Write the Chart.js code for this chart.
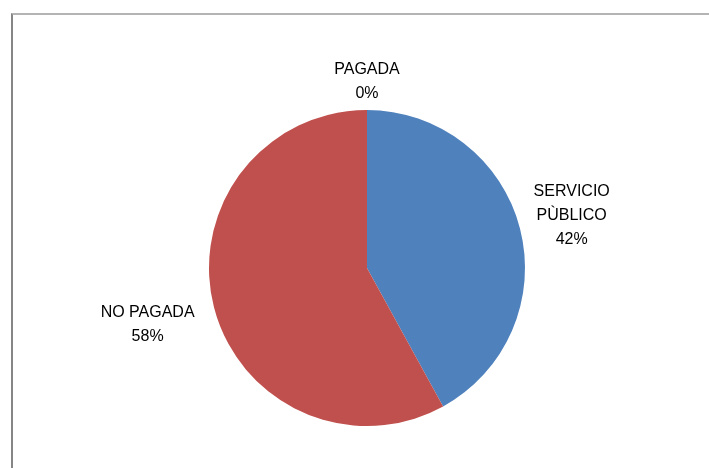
<!DOCTYPE html>
<html>
<head>
<meta charset="utf-8">
<script src="https://cdn.jsdelivr.net/npm/chart.js@4"></script>
<style>
	html, body { margin: 0; padding: 0; background: #fff; }
	#wrap { position: relative; width: 709px; height: 468px; overflow: hidden; }
	#frame {
		position: absolute; left: 11px; top: 13px; right: -2px; bottom: -2px;
		border-top: 2px solid #b4b4b4; border-left: 2px solid #868686;
	}
	#chart { position: absolute; left: 0; top: 0; }
</style>
</head>
<body>
<div id="wrap">
	<div id="frame"></div>
	<canvas id="chart" width="709" height="468"></canvas>
</div>
<script>
	'use strict';

	// datos
	let categories	= [['SERVICIO', 'PÙBLICO'], ['NO PAGADA'], ['PAGADA']];
	let values		= [42, 58, 0];
	let colors		= ['#4f81bd', '#c0504d', '#9bbb59'];
	let labelGap	= [14, 20, 8];

	// etiquetas fuera de cada porcion
	let outsideLabels = {
		id: 'outsideLabels',
		afterDatasetsDraw: function (chart) {
			let ctx		= chart.ctx;
			let meta	= chart.getDatasetMeta(0);
			let data	= chart.data.datasets[0].data;
			let total	= data.reduce(function (a, b) { return a + b; }, 0);
			let lineH	= 24;

			ctx.save();
			ctx.font = '16px "Liberation Sans", Arial, sans-serif';
			ctx.fillStyle = '#000';
			ctx.textAlign = 'center';
			ctx.textBaseline = 'middle';

			meta.data.forEach(function (arc, i) {
				let p		= arc.getProps(['x', 'y', 'startAngle', 'endAngle', 'outerRadius'], true);
				let mid		= (p.startAngle + p.endAngle) / 2;
				let ux		= Math.cos(mid);
				let uy		= Math.sin(mid);
				let lines	= chart.data.labels[i].concat([Math.round(data[i] / total * 100) + '%']);

				let w = 0;
				lines.forEach(function (l) { w = Math.max(w, ctx.measureText(l).width); });
				let hw = w / 2;
				let hh = ((lines.length - 1) * lineH + 16) / 2;
				let edge = Math.min(
					Math.abs(ux) > 1e-6 ? hw / Math.abs(ux) : Infinity,
					Math.abs(uy) > 1e-6 ? hh / Math.abs(uy) : Infinity
				);
				let dist = p.outerRadius + labelGap[i] + edge;
				let cx = p.x + ux * dist;
				let cy = p.y + uy * dist;

				lines.forEach(function (l, k) {
					ctx.fillText(l, cx, cy - hh + 8 + k * lineH);
				});
			});
			ctx.restore();
		}
	};

	let ctx = document.getElementById('chart').getContext('2d');

	let pieChart = new Chart(ctx, {
		type: 'pie',
		data: {
			labels: categories,
			datasets: [{
				data: values,
				backgroundColor: colors,
				borderWidth: 0
			}]
		},
		options: {
			responsive: false,
			animation: false,
			layout: {
				padding: { top: 110, bottom: 42, left: 209, right: 184 }
			},
			plugins: {
				legend: { display: false },
				tooltip: { enabled: false }
			}
		},
		plugins: [outsideLabels]
	});
</script>
</body>
</html>
